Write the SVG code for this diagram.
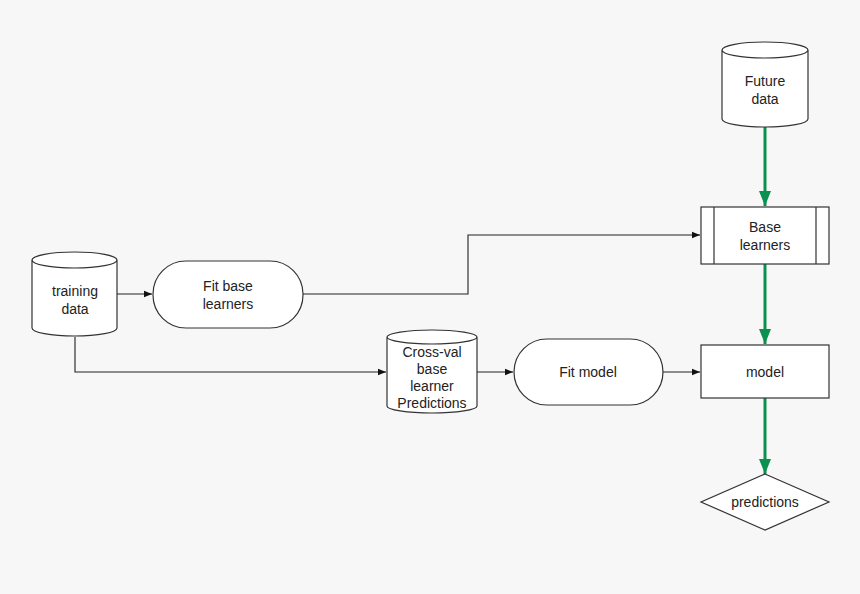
<svg xmlns="http://www.w3.org/2000/svg" width="860" height="594" viewBox="0 0 860 594">
<style>
.s{fill:#fff;stroke:#333;stroke-width:1.2}
text{font-family:"Liberation Sans",Arial,sans-serif;font-size:14px;fill:#222;text-anchor:middle}
.c{fill:none;stroke:#222;stroke-width:1.1}
.g{fill:none;stroke:#0a9150;stroke-width:3}
</style>
<defs>
<marker id="a" viewBox="0 0 10 10" refX="10" refY="5" markerWidth="8" markerHeight="8" markerUnits="userSpaceOnUse" orient="auto"><path d="M0,1L10,5L0,9z" fill="#111"/></marker>
<marker id="ga" viewBox="0 0 10 10" refX="10" refY="5" markerWidth="15" markerHeight="15" markerUnits="userSpaceOnUse" orient="auto"><path d="M0,1L10,5L0,9z" fill="#0a9150"/></marker>
</defs>
<rect width="860" height="594" fill="#f7f7f7"/>
<g id="connectors">
<path class="c" d="M117,294H152" marker-end="url(#a)"/>
<path class="c" d="M303,294H468V235H700" marker-end="url(#a)"/>
<path class="c" d="M75,337V372H386" marker-end="url(#a)"/>
<path class="c" d="M477,372H513" marker-end="url(#a)"/>
<path class="c" d="M663,372H700" marker-end="url(#a)"/>
<path class="g" d="M765,127V206" marker-end="url(#ga)"/>
<path class="g" d="M765,264V344" marker-end="url(#ga)"/>
<path class="g" d="M765,398V474" marker-end="url(#ga)"/>
</g>
<g id="future">
<path class="s" d="M722,50V119A43,8 0 0 0 808,119V50A43,8 0 0 0 722,50A43,8 0 0 0 808,50"/>
<text x="765" y="86">Future</text><text x="765" y="104">data</text>
</g>
<g id="base">
<rect class="s" x="701" y="207" width="128" height="57"/>
<path class="s" d="M714,207V264M816,207V264"/>
<text x="765" y="232">Base</text><text x="765" y="250">learners</text>
</g>
<g id="model">
<rect class="s" x="701" y="345" width="128" height="53"/>
<text x="765" y="377">model</text>
</g>
<g id="predictions">
<path class="s" d="M765,474L829,502L765,530L701,502Z"/>
<text x="765" y="507">predictions</text>
</g>
<g id="training">
<path class="s" d="M32,260V328A42.5,8 0 0 0 117,328V260A42.5,8 0 0 0 32,260A42.5,8 0 0 0 117,260"/>
<text x="75" y="296">training</text><text x="75" y="314">data</text>
</g>
<g id="fitbase">
<rect class="s" x="153" y="261" width="150" height="67" rx="33"/>
<text x="228" y="291">Fit base</text><text x="228" y="309">learners</text>
</g>
<g id="crossval">
<path class="s" d="M387,337V406A45,7 0 0 0 477,406V337A45,7 0 0 0 387,337A45,7 0 0 0 477,337"/>
<text x="432" y="357">Cross-val</text><text x="432" y="374">base</text><text x="432" y="391">learner</text><text x="432" y="408">Predictions</text>
</g>
<g id="fitmodel">
<rect class="s" x="514" y="339" width="149" height="66" rx="33"/>
<text x="588" y="377">Fit model</text>
</g>
</svg>
